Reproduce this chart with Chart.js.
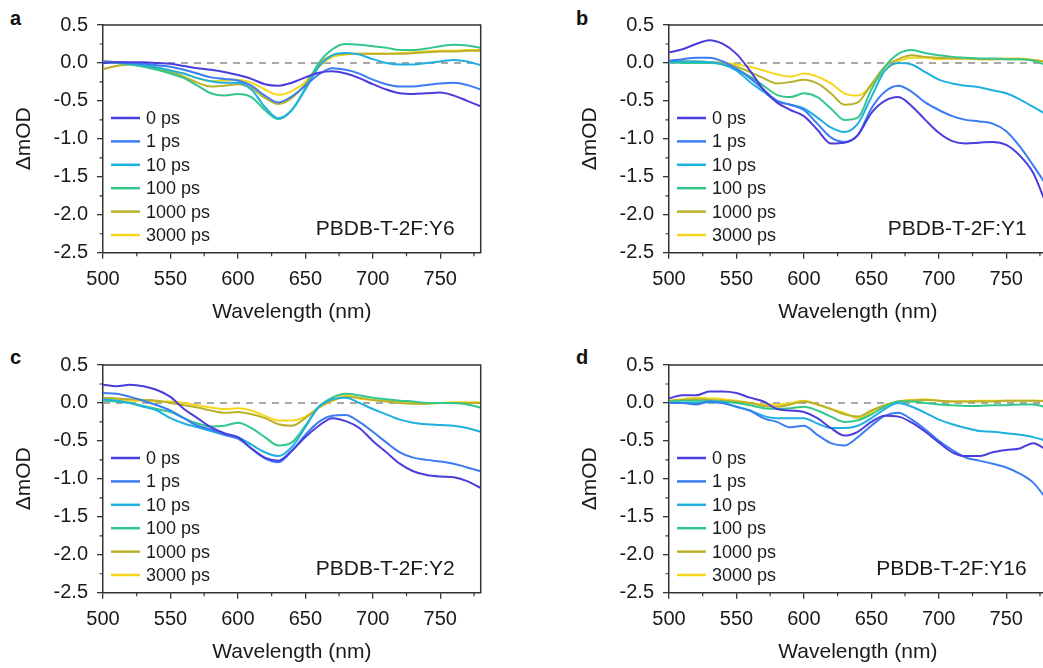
<!DOCTYPE html>
<html>
<head>
<meta charset="utf-8">
<script src="https://cdn.jsdelivr.net/npm/chart.js@4.4.0/dist/chart.umd.min.js"></script>
<style>
  html, body { margin: 0; padding: 0; background: #fff; overflow: hidden; width: 1043px; height: 668px; }
  canvas { position: absolute; }
  .tag { position: absolute; font: bold 20px "Liberation Sans", Arial, sans-serif; line-height: 1; color: #111; }
</style>
</head>
<body>
<div class="tag" style="left:10px;top:8px">a</div>
<div class="tag" style="left:576px;top:8px">b</div>
<div class="tag" style="left:10px;top:347px">c</div>
<div class="tag" style="left:576px;top:347px">d</div>
<canvas id="pa" width="530" height="334" style="left:0;top:0"></canvas>
<canvas id="pb" width="530" height="334" style="left:566px;top:0"></canvas>
<canvas id="pc" width="530" height="334" style="left:0;top:340px"></canvas>
<canvas id="pd" width="530" height="334" style="left:566px;top:340px"></canvas>
<script>
// wavelength grid (nm)
const wavelengths = [500,510,520,530,540,550,560,570,580,590,600,610,620,630,640,650,660,670,680,690,700,710,720,730,740,750,760,770,780];
const delays = ["0 ps", "1 ps", "10 ps", "100 ps", "1000 ps", "3000 ps"];
const colors = ["#4b3ddd", "#3b7cf2", "#1fb0e0", "#34c78c", "#b9b02b", "#f6d61d"];
const xTicks = [500, 550, 600, 650, 700, 750];
const yTicks = [0.5, 0.0, -0.5, -1.0, -1.5, -2.0, -2.5];

// PBDB-T-2F:Y6
const y6_0    = [0.00,0.01,0.01,0.01,0.00,-0.01,-0.04,-0.07,-0.09,-0.12,-0.16,-0.21,-0.28,-0.30,-0.26,-0.19,-0.13,-0.11,-0.14,-0.20,-0.28,-0.35,-0.40,-0.41,-0.40,-0.39,-0.43,-0.50,-0.57];
const y6_1    = [0.02,0.01,0.00,-0.01,-0.03,-0.05,-0.09,-0.14,-0.19,-0.21,-0.23,-0.30,-0.43,-0.52,-0.44,-0.30,-0.15,-0.07,-0.09,-0.14,-0.22,-0.28,-0.31,-0.31,-0.29,-0.27,-0.26,-0.29,-0.35];
const y6_10   = [0.02,0.01,-0.01,-0.03,-0.06,-0.10,-0.14,-0.20,-0.24,-0.26,-0.26,-0.35,-0.58,-0.73,-0.62,-0.35,-0.05,0.10,0.13,0.11,0.05,0.00,-0.02,-0.02,0.00,0.02,0.04,0.02,-0.03];
const y6_100  = [0.01,0.00,-0.02,-0.05,-0.09,-0.14,-0.20,-0.30,-0.40,-0.43,-0.41,-0.45,-0.62,-0.74,-0.62,-0.33,0.00,0.18,0.25,0.24,0.22,0.20,0.17,0.17,0.19,0.22,0.24,0.23,0.20];
const y6_1000 = [-0.08,-0.04,-0.02,-0.04,-0.08,-0.12,-0.18,-0.26,-0.31,-0.30,-0.28,-0.33,-0.46,-0.54,-0.46,-0.28,-0.02,0.10,0.12,0.12,0.12,0.12,0.12,0.13,0.14,0.15,0.15,0.16,0.16];
const y6_3000 = [0.03,0.01,-0.01,-0.03,-0.06,-0.10,-0.14,-0.20,-0.24,-0.23,-0.22,-0.26,-0.35,-0.42,-0.37,-0.25,-0.05,0.08,0.11,0.12,0.12,0.12,0.13,0.14,0.15,0.16,0.16,0.17,0.17];

// PBDB-T-2F:Y1
const y1_0    = [0.14,0.18,0.25,0.30,0.25,0.12,-0.10,-0.35,-0.52,-0.62,-0.70,-0.88,-1.06,-1.05,-0.95,-0.66,-0.50,-0.45,-0.57,-0.75,-0.92,-1.03,-1.06,-1.05,-1.04,-1.08,-1.22,-1.45,-1.88];
const y1_1    = [0.03,0.05,0.07,0.07,0.02,-0.08,-0.20,-0.35,-0.50,-0.55,-0.62,-0.80,-0.98,-1.04,-0.95,-0.60,-0.38,-0.30,-0.38,-0.52,-0.62,-0.70,-0.75,-0.77,-0.80,-0.90,-1.10,-1.35,-1.62];
const y1_10   = [0.02,0.02,0.02,0.01,-0.02,-0.10,-0.25,-0.38,-0.50,-0.55,-0.60,-0.72,-0.85,-0.91,-0.80,-0.45,-0.10,0.00,-0.02,-0.12,-0.22,-0.27,-0.30,-0.32,-0.36,-0.40,-0.48,-0.58,-0.68];
const y1_100  = [0.01,0.00,0.00,0.00,-0.02,-0.08,-0.18,-0.30,-0.42,-0.45,-0.40,-0.45,-0.60,-0.75,-0.72,-0.35,-0.05,0.12,0.17,0.13,0.10,0.08,0.07,0.06,0.06,0.05,0.05,0.03,-0.03];
const y1_1000 = [0.03,0.02,0.02,0.01,0.00,-0.05,-0.12,-0.20,-0.27,-0.25,-0.22,-0.27,-0.40,-0.55,-0.52,-0.28,-0.05,0.05,0.10,0.08,0.07,0.06,0.06,0.05,0.05,0.05,0.05,0.04,0.01];
const y1_3000 = [0.03,0.02,0.01,0.00,0.00,-0.02,-0.05,-0.10,-0.15,-0.18,-0.14,-0.18,-0.27,-0.40,-0.43,-0.30,-0.10,0.02,0.07,0.07,0.05,0.06,0.06,0.05,0.05,0.06,0.06,0.04,0.02];

// PBDB-T-2F:Y2
const y2_0    = [0.24,0.22,0.24,0.22,0.17,0.08,-0.08,-0.20,-0.32,-0.40,-0.45,-0.60,-0.72,-0.76,-0.63,-0.45,-0.30,-0.20,-0.24,-0.33,-0.50,-0.65,-0.80,-0.90,-0.95,-0.97,-0.98,-1.03,-1.12];
const y2_1    = [0.13,0.12,0.08,0.03,-0.03,-0.10,-0.20,-0.30,-0.35,-0.42,-0.47,-0.60,-0.73,-0.78,-0.63,-0.42,-0.25,-0.17,-0.16,-0.25,-0.38,-0.52,-0.65,-0.72,-0.75,-0.77,-0.80,-0.85,-0.90];
const y2_10   = [0.05,0.03,0.00,-0.05,-0.10,-0.20,-0.27,-0.32,-0.37,-0.42,-0.45,-0.55,-0.65,-0.70,-0.58,-0.32,-0.05,0.05,0.07,0.00,-0.08,-0.15,-0.22,-0.26,-0.28,-0.29,-0.30,-0.33,-0.38];
const y2_100  = [0.03,0.02,0.00,-0.04,-0.08,-0.12,-0.20,-0.27,-0.31,-0.30,-0.26,-0.33,-0.45,-0.56,-0.52,-0.30,-0.05,0.07,0.12,0.10,0.07,0.05,0.03,0.02,0.00,0.00,0.00,-0.02,-0.06];
const y2_1000 = [0.07,0.06,0.05,0.04,0.03,0.00,-0.03,-0.06,-0.10,-0.13,-0.12,-0.15,-0.20,-0.28,-0.30,-0.20,-0.06,0.03,0.08,0.07,0.04,0.02,0.00,-0.01,-0.01,0.00,0.00,0.00,0.00];
const y2_3000 = [0.06,0.05,0.03,0.03,0.02,0.02,0.00,-0.03,-0.06,-0.08,-0.07,-0.10,-0.17,-0.23,-0.23,-0.18,-0.06,0.03,0.10,0.06,0.04,0.03,0.02,0.00,-0.01,0.00,0.01,0.01,0.01];

// PBDB-T-2F:Y16
const y16_0    = [0.06,0.10,0.10,0.15,0.15,0.13,0.07,0.02,-0.08,-0.10,-0.12,-0.20,-0.33,-0.43,-0.38,-0.25,-0.17,-0.18,-0.26,-0.38,-0.52,-0.65,-0.70,-0.70,-0.65,-0.62,-0.60,-0.53,-0.62];
const y16_1    = [0.00,0.00,-0.02,0.02,0.00,-0.05,-0.10,-0.20,-0.25,-0.32,-0.30,-0.42,-0.53,-0.56,-0.45,-0.30,-0.17,-0.13,-0.22,-0.35,-0.50,-0.62,-0.72,-0.76,-0.80,-0.85,-0.93,-1.05,-1.27];
const y16_10   = [0.00,0.00,0.00,0.01,0.00,-0.05,-0.10,-0.17,-0.20,-0.20,-0.20,-0.27,-0.33,-0.33,-0.30,-0.20,-0.08,0.00,-0.05,-0.13,-0.22,-0.28,-0.33,-0.37,-0.38,-0.40,-0.42,-0.45,-0.50];
const y16_100  = [0.02,0.03,0.03,0.03,0.02,0.00,-0.03,-0.07,-0.08,-0.07,-0.05,-0.10,-0.18,-0.25,-0.23,-0.15,-0.05,0.02,0.02,0.00,-0.02,-0.03,-0.04,-0.04,-0.03,-0.03,-0.02,-0.02,-0.06];
const y16_1000 = [0.03,0.04,0.05,0.04,0.03,0.02,0.00,-0.04,-0.05,-0.02,0.02,-0.02,-0.08,-0.15,-0.18,-0.10,-0.03,0.02,0.03,0.04,0.03,0.02,0.02,0.02,0.02,0.03,0.03,0.03,0.02];
const y16_3000 = [0.03,0.05,0.07,0.06,0.05,0.03,0.00,-0.02,-0.02,0.00,0.03,-0.02,-0.08,-0.13,-0.20,-0.12,-0.03,0.02,0.04,0.05,0.03,0.02,0.02,0.03,0.03,0.03,0.03,0.03,0.03];

const FONT = '"Liberation Sans", Arial, sans-serif';
const INK = "#1a1a1a";

// frame, minor ticks, legend and sample label
const decor = {
  id: "decor",
  afterDraw(chart, args, opts) {
    const { ctx, chartArea: a, scales: { x, y } } = chart;
    ctx.save();
    ctx.strokeStyle = "#333";
    ctx.lineWidth = 1.5;
    ctx.beginPath();
    ctx.moveTo(a.left, a.top); ctx.lineTo(a.right, a.top); ctx.lineTo(a.right, a.bottom);
    ctx.stroke();
    // minor ticks
    ctx.lineWidth = 1.2;
    ctx.beginPath();
    for (let v = 525; v <= 780; v += 50) {
      const px = x.getPixelForValue(v);
      ctx.moveTo(px, a.bottom); ctx.lineTo(px, a.bottom + 3.5);
    }
    for (let v = 0.25; v > -2.5; v -= 0.5) {
      const py = y.getPixelForValue(v);
      ctx.moveTo(a.left, py); ctx.lineTo(a.left - 3.5, py);
    }
    ctx.stroke();
    // legend
    ctx.font = "18px " + FONT;
    ctx.textBaseline = "middle";
    ctx.textAlign = "left";
    chart.data.datasets.forEach((ds, i) => {
      if (!ds.inLegend) return;
      const ly = a.top + 93 + i * 23.4;
      ctx.strokeStyle = ds.borderColor;
      ctx.lineWidth = 2.5;
      ctx.beginPath();
      ctx.moveTo(a.left + 8, ly); ctx.lineTo(a.left + 37, ly);
      ctx.stroke();
      ctx.fillStyle = INK;
      ctx.fillText(ds.label, a.left + 43, ly + 1);
    });
    // sample name
    ctx.font = "21px " + FONT;
    ctx.textAlign = "right";
    ctx.fillText(opts.sample, a.right - opts.labelInset, a.bottom - 23);
    ctx.restore();
  }
};

function makePanel(id, sample, series, labelInset) {
  const datasets = series.map((vals, i) => ({
    label: delays[i],
    inLegend: true,
    data: wavelengths.map((w, k) => ({ x: w, y: vals[k] })),
    borderColor: colors[i],
    borderWidth: 2,
    pointRadius: 0,
    cubicInterpolationMode: "monotone",
    fill: false
  }));
  datasets.push({
    label: "zero",
    inLegend: false,
    data: [{ x: 500, y: 0 }, { x: 780, y: 0 }],
    borderColor: "#8c8c8c",
    borderWidth: 1.5,
    borderDash: [7, 6],
    pointRadius: 0
  });
  new Chart(document.getElementById(id), {
    type: "line",
    data: { datasets },
    options: {
      responsive: false,
      animation: false,
      layout: { padding: { top: 25, right: 49.3, left: 0, bottom: 0 } },
      plugins: { legend: { display: false }, tooltip: { enabled: false }, decor: { sample, labelInset } },
      scales: {
        x: {
          type: "linear", min: 500, max: 780,
          afterFit: s => { s.height = 81.3; },
          afterBuildTicks: s => { s.ticks = xTicks.map(v => ({ value: v })); },
          grid: { display: true, drawOnChartArea: false, drawTicks: true, tickLength: 6, color: "#333", lineWidth: 1.3 },
          border: { display: true, color: "#333", width: 1.5 },
          ticks: { color: INK, font: { family: FONT, size: 20 }, padding: 9, maxRotation: 0 },
          title: { display: true, text: "Wavelength (nm)", color: INK, font: { family: FONT, size: 21 }, padding: { top: 4, bottom: 9 } }
        },
        y: {
          type: "linear", min: -2.5, max: 0.5,
          afterFit: s => { s.width = 103; },
          afterBuildTicks: s => { s.ticks = yTicks.map(v => ({ value: v })); },
          grid: { display: true, drawOnChartArea: false, drawTicks: true, tickLength: 6, color: "#333", lineWidth: 1.3 },
          border: { display: true, color: "#333", width: 1.5 },
          ticks: { color: INK, font: { family: FONT, size: 20 }, padding: 9, callback: v => v.toFixed(1) },
          title: { display: true, text: "ΔmOD", color: INK, font: { family: FONT, size: 21 }, padding: { top: 12, bottom: 4 } }
        }
      }
    },
    plugins: [decor]
  });
}

makePanel("pa", "PBDB-T-2F:Y6", [y6_0, y6_1, y6_10, y6_100, y6_1000, y6_3000], 26);
makePanel("pb", "PBDB-T-2F:Y1", [y1_0, y1_1, y1_10, y1_100, y1_1000, y1_3000], 20);
makePanel("pc", "PBDB-T-2F:Y2", [y2_0, y2_1, y2_10, y2_100, y2_1000, y2_3000], 26);
makePanel("pd", "PBDB-T-2F:Y16", [y16_0, y16_1, y16_10, y16_100, y16_1000, y16_3000], 20);
</script>
</body>
</html>
